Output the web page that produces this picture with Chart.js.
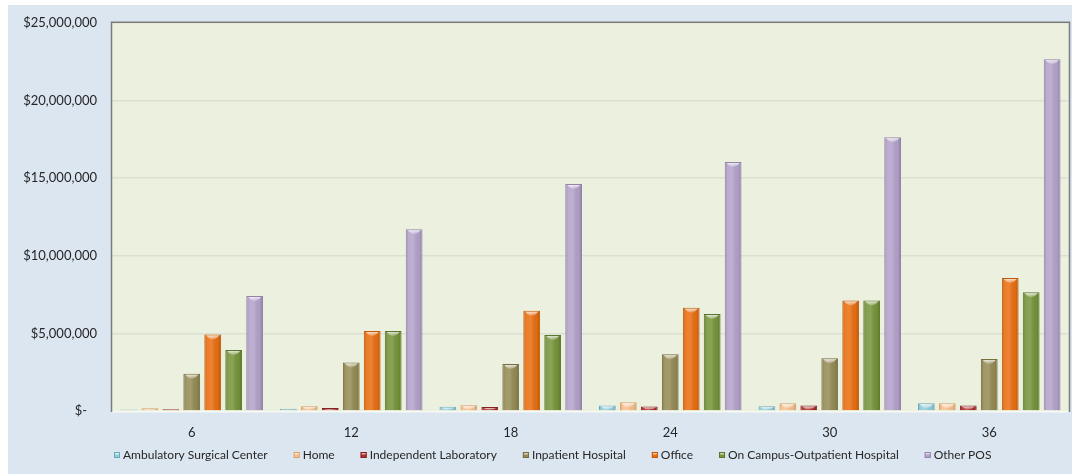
<!DOCTYPE html>
<html>
<head>
<meta charset="utf-8">
<script src="https://cdn.jsdelivr.net/npm/chart.js@4.4.1/dist/chart.umd.min.js"></script>
<style>
  html, body { margin: 0; padding: 0; background: #ffffff; }
  #wrap { position: relative; width: 1075px; height: 474px; }
</style>
</head>
<body>
<div id="wrap"><canvas id="chart" width="1075" height="474"></canvas></div>
<script>
// Months of follow-up (category axis)
const months = ['6', '12', '18', '24', '30', '36'];

// Payments by place of service, in dollars
const ambulatorySurgical = [100000, 140000, 270000, 360000, 300000, 500000];
const home               = [180000, 310000, 370000, 570000, 500000, 500000];
const independentLab     = [120000, 200000, 250000, 290000, 360000, 360000];
const inpatientHospital  = [2400000, 3130000, 3020000, 3650000, 3390000, 3350000];
const office             = [4920000, 5160000, 6450000, 6650000, 7120000, 8560000];
const onCampusOutpatient = [3930000, 5160000, 4900000, 6240000, 7120000, 7640000];
const otherPos           = [7400000, 11710000, 14620000, 16040000, 17630000, 22660000];

// Y axis ticks
const yTicks = [0, 5000000, 10000000, 15000000, 20000000, 25000000];

const seriesNames = [
  'Ambulatory Surgical Center', 'Home', 'Independent Laboratory',
  'Inpatient Hospital', 'Office', 'On Campus-Outpatient Hospital', 'Other POS'
];
const seriesData = [
  ambulatorySurgical, home, independentLab, inpatientHospital,
  office, onCampusOutpatient, otherPos
];
const fills   = ['#93cddd', '#f9c08e', '#b02e2e', '#968c56', '#ea6f12', '#77953b', '#b4a3cb'];
const borders = ['#6aaabb', '#d8a06a', '#842222', '#756c40', '#bf5a0a', '#5a742c', '#9383ad'];

const fontFamily = 'Lato, "Open Sans", sans-serif';
const textColor = '#262626';

const fmtMoney = v => v === 0 ? '$-   ' : '$' + v.toLocaleString('en-US');

// Panel and plot-area backgrounds with the framed edge
const backdrop = {
  id: 'backdrop',
  beforeDraw(chart) {
    const { ctx, chartArea: a } = chart;
    ctx.save();
    ctx.fillStyle = '#dce6f1';
    ctx.fillRect(8, 5, 1064, 474 - 5);
    ctx.fillStyle = '#ebf1de';
    ctx.fillRect(a.left, a.top, a.right - a.left, a.bottom - a.top);
    ctx.restore();
  },
  afterDatasetsDraw(chart) {
    const { ctx, chartArea: a } = chart;
    ctx.save();
    ctx.strokeStyle = '#f7f9f2';
    ctx.lineWidth = 1.5;
    ctx.beginPath();
    ctx.moveTo(a.left, a.bottom + 0.75);
    ctx.lineTo(a.right, a.bottom + 0.75);
    ctx.stroke();
    ctx.strokeStyle = '#7c7c7c';
    ctx.lineWidth = 1.5;
    ctx.beginPath();
    ctx.moveTo(a.left - 0.5, a.bottom + 1);
    ctx.lineTo(a.left - 0.5, a.top - 0.5);
    ctx.lineTo(a.right + 0.5, a.top - 0.5);
    ctx.lineTo(a.right + 0.5, a.bottom + 1);
    ctx.stroke();
    ctx.restore();
  }
};

// Bevelled shading on each bar: side shading plus a light cap at the top
const bevel = {
  id: 'bevel',
  afterDatasetsDraw(chart) {
    const ctx = chart.ctx;
    ctx.save();
    chart.data.datasets.forEach((ds, i) => {
      const meta = chart.getDatasetMeta(i);
      meta.data.forEach(bar => {
        const { x, y, base, width } = bar.getProps(['x', 'y', 'base', 'width'], true);
        const l = x - width / 2, r = x + width / 2;
        const h = base - y;
        if (h <= 0) return;
        const g = ctx.createLinearGradient(l, 0, r, 0);
        g.addColorStop(0, 'rgba(0,0,0,0.18)');
        g.addColorStop(0.18, 'rgba(255,255,255,0.10)');
        g.addColorStop(0.45, 'rgba(255,255,255,0.14)');
        g.addColorStop(0.8, 'rgba(0,0,0,0.04)');
        g.addColorStop(1, 'rgba(0,0,0,0.22)');
        ctx.fillStyle = g;
        ctx.fillRect(l + 1, y + 1, width - 2, h - 1);
        const capH = Math.min(5, h - 1);
        if (capH > 1) {
          const cg = ctx.createLinearGradient(0, y + 1, 0, y + 1 + capH);
          cg.addColorStop(0, 'rgba(255,255,255,0.75)');
          cg.addColorStop(1, 'rgba(255,255,255,0)');
          ctx.fillStyle = cg;
          ctx.beginPath();
          ctx.moveTo(l + 2, y + 1);
          ctx.lineTo(r - 2, y + 1);
          ctx.quadraticCurveTo(x, y + 1 + capH * 1.6, l + 2, y + 1);
          ctx.fill();
        }
      });
    });
    ctx.restore();
  }
};

// Legend row drawn from the dataset labels and colours
const legendRow = {
  id: 'legendRow',
  afterDraw(chart) {
    const ctx = chart.ctx;
    ctx.save();
    ctx.font = '12px ' + fontFamily;
    ctx.textBaseline = 'middle';
    let xPos = 114;
    const yMid = 455;
    chart.data.datasets.forEach(ds => {
      ctx.fillStyle = ds.backgroundColor;
      ctx.fillRect(xPos, yMid - 3, 6, 6);
      ctx.strokeStyle = ds.borderColor;
      ctx.lineWidth = 1;
      ctx.strokeRect(xPos + 0.5, yMid - 2.5, 5, 5);
      ctx.fillStyle = 'rgba(255,255,255,0.6)';
      ctx.fillRect(xPos + 1, yMid - 2, 4, 1.5);
      ctx.fillStyle = textColor;
      ctx.fillText(ds.label, xPos + 9, yMid + 0.5);
      xPos += 9 + ctx.measureText(ds.label).width + 26;
    });
    ctx.restore();
  }
};

new Chart(document.getElementById('chart'), {
  type: 'bar',
  data: {
    labels: months,
    datasets: seriesNames.map((name, i) => ({
      label: name,
      data: seriesData[i],
      backgroundColor: fills[i],
      borderColor: borders[i],
      borderWidth: 1,
      categoryPercentage: 0.92,
      barPercentage: 0.8
    }))
  },
  options: {
    responsive: false,
    animation: false,
    devicePixelRatio: 1,
    layout: { padding: { left: 8, top: 22, right: 6, bottom: 0 } },
    plugins: {
      legend: { display: false },
      tooltip: { enabled: false }
    },
    scales: {
      x: {
        grid: { display: false, drawTicks: false },
        border: { display: false },
        ticks: {
          color: textColor,
          font: { family: fontFamily, size: 13 },
          padding: 14
        },
        afterFit(scale) { scale.height = 63; }
      },
      y: {
        min: 0,
        max: 25000000,
        afterBuildTicks(scale) { scale.ticks = yTicks.map(v => ({ value: v })); },
        grid: {
          color: ctx => ctx.tick && ctx.tick.value === 0 ? 'rgba(0,0,0,0)' : '#dcdfd3',
          lineWidth: 1.5,
          drawTicks: false
        },
        border: { display: false },
        ticks: {
          color: textColor,
          font: { family: fontFamily, size: 13 },
          padding: 15,
          callback: v => fmtMoney(v)
        },
        afterFit(scale) { scale.width = 104; }
      }
    }
  },
  plugins: [backdrop, bevel, legendRow]
});
</script>
</body>
</html>
